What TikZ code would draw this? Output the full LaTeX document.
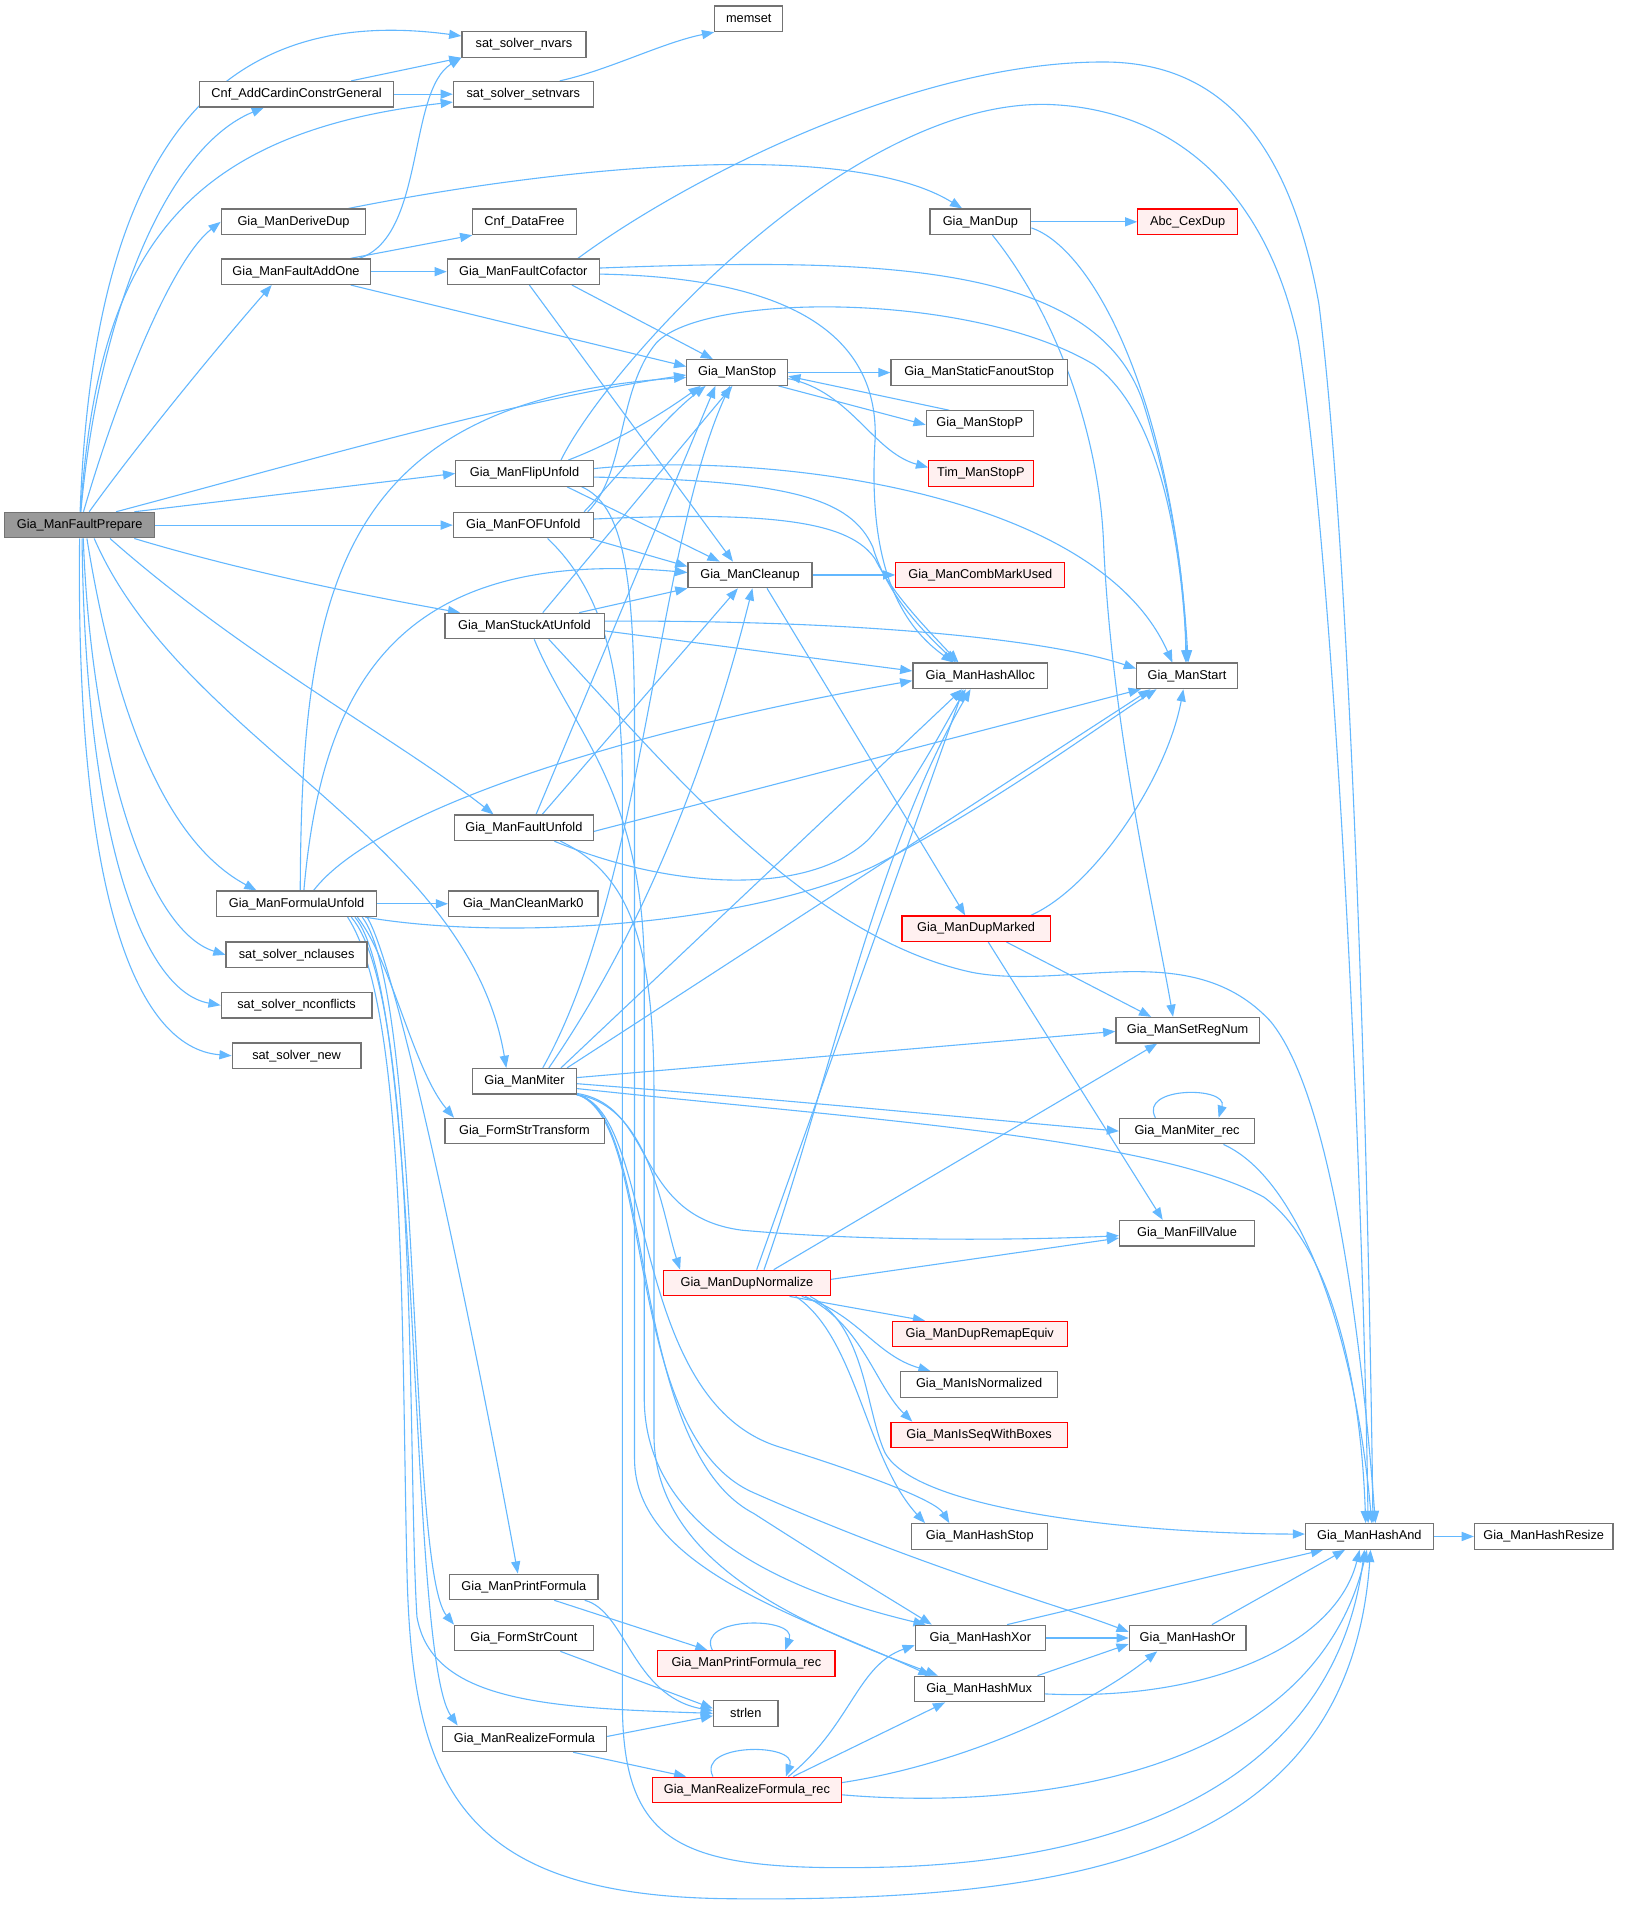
\documentclass[tikz,border=0pt]{standalone}
\usepackage{fontspec}
\setmainfont{Liberation Sans}
\usetikzlibrary{arrows.meta}
\definecolor{edgec}{HTML}{63B8FF}
\definecolor{bordc}{HTML}{737373}
\definecolor{rootc}{HTML}{999999}
\definecolor{redfill}{HTML}{FFF0F0}
\definecolor{redbord}{HTML}{FF0000}
\pgfdeclarelayer{bg}
\pgfsetlayers{bg,main}
\tikzset{
  nd/.style={draw=bordc, fill=white, line width=1pt, minimum height=21pt, inner sep=0pt, font=\fontsize{10.5pt}{12pt}\selectfont, text=black},
  rednd/.style={nd, draw=redbord, fill=redfill},
  rootnd/.style={nd, draw=bordc, fill=rootc},
  ed/.style={draw=edgec, line width=0.9pt, -{Triangle[length=10pt,width=7.5pt]}},
}
\begin{document}
\begin{tikzpicture}[x=1pt,y=-1pt]
\useasboundingbox (0,0) rectangle (1344,1568);
% nodes
\node[rootnd, minimum width=123pt] (fp) at (65.5,432) {Gia\_ManFaultPrepare};
\node[nd, minimum width=102pt] (nvars) at (431,36.5) {sat\_solver\_nvars};
\node[nd, minimum width=160pt] (cnfadd) at (244,77.5) {Cnf\_AddCardinConstrGeneral};
\node[nd, minimum width=115pt] (setnvars) at (430.5,77.5) {sat\_solver\_setnvars};
\node[nd, minimum width=56pt] (memset) at (616,15.5) {memset};
\node[nd, minimum width=119pt] (derivedup) at (241.5,182.5) {Gia\_ManDeriveDup};
\node[nd, minimum width=83pt] (dup) at (806.5,182.5) {Gia\_ManDup};
\node[rednd, minimum width=82pt] (cexdup) at (977,182.5) {Abc\_CexDup};
\node[nd, minimum width=85pt] (datafree) at (431.5,182.5) {Cnf\_DataFree};
\node[nd, minimum width=123pt] (addone) at (243.5,223.5) {Gia\_ManFaultAddOne};
\node[nd, minimum width=125pt] (cofactor) at (430.5,223.5) {Gia\_ManFaultCofactor};
\node[nd, minimum width=83pt] (stop) at (606.5,306.5) {Gia\_ManStop};
\node[nd, minimum width=145pt] (sfostop) at (805.5,306.5) {Gia\_ManStaticFanoutStop};
\node[nd, minimum width=88pt] (stopp) at (806,348.5) {Gia\_ManStopP};
\node[rednd, minimum width=86pt] (timstopp) at (807,389.5) {Tim\_ManStopP};
\node[nd, minimum width=113pt] (flip) at (431.5,389.5) {Gia\_ManFlipUnfold};
\node[nd, minimum width=115pt] (fof) at (430.5,432) {Gia\_ManFOFUnfold};
\node[nd, minimum width=102pt] (cleanup) at (617,473) {Gia\_ManCleanup};
\node[rednd, minimum width=139pt] (combmark) at (806.5,473) {Gia\_ManCombMarkUsed};
\node[nd, minimum width=131pt] (stuck) at (431.5,515) {Gia\_ManStuckAtUnfold};
\node[nd, minimum width=111pt] (hashalloc) at (806.5,556) {Gia\_ManHashAlloc};
\node[nd, minimum width=83pt] (start) at (976.5,556) {Gia\_ManStart};
\node[nd, minimum width=114pt] (faultunf) at (431,681) {Gia\_ManFaultUnfold};
\node[nd, minimum width=132pt] (formula) at (244,743.5) {Gia\_ManFormulaUnfold};
\node[nd, minimum width=123pt] (cleanmark) at (430.5,743.5) {Gia\_ManCleanMark0};
\node[rednd, minimum width=122pt] (dupmarked) at (803,764) {Gia\_ManDupMarked};
\node[nd, minimum width=116pt] (nclauses) at (244,785.5) {sat\_solver\_nclauses};
\node[nd, minimum width=118pt] (setregnum) at (977,847.5) {Gia\_ManSetRegNum};
\node[nd, minimum width=124pt] (nconflicts) at (244,827) {sat\_solver\_nconflicts};
\node[nd, minimum width=106pt] (satnew) at (244,868.5) {sat\_solver\_new};
\node[nd, minimum width=85pt] (miter) at (431.5,889.5) {Gia\_ManMiter};
\node[nd, minimum width=111pt] (miterrec) at (976.5,930.5) {Gia\_ManMiter\_rec};
\node[nd, minimum width=131pt] (fstrans) at (431.5,930.5) {Gia\_FormStrTransform};
\node[nd, minimum width=111pt] (fillvalue) at (976.5,1014.5) {Gia\_ManFillValue};
\node[rednd, minimum width=137pt] (dupnorm) at (614.5,1055.5) {Gia\_ManDupNormalize};
\node[rednd, minimum width=144pt] (remap) at (806,1097.5) {Gia\_ManDupRemapEquiv};
\node[nd, minimum width=129pt] (isnorm) at (805.5,1139) {Gia\_ManIsNormalized};
\node[rednd, minimum width=145pt] (isseq) at (805.5,1180.5) {Gia\_ManIsSeqWithBoxes};
\node[nd, minimum width=105pt] (hashand) at (1126.5,1264) {Gia\_ManHashAnd};
\node[nd, minimum width=114pt] (hashresize) at (1270,1264) {Gia\_ManHashResize};
\node[nd, minimum width=112pt] (hashstop) at (806,1264) {Gia\_ManHashStop};
\node[nd, minimum width=122pt] (printf) at (431,1305.5) {Gia\_ManPrintFormula};
\node[nd, minimum width=114pt] (fscount) at (431,1347.5) {Gia\_FormStrCount};
\node[rednd, minimum width=146pt] (printrec) at (614,1368.5) {Gia\_ManPrintFormula\_rec};
\node[nd, minimum width=107pt] (hashxor) at (806.5,1347.5) {Gia\_ManHashXor};
\node[nd, minimum width=96pt] (hashor) at (977,1347.5) {Gia\_ManHashOr};
\node[nd, minimum width=107pt] (hashmux) at (805.5,1389.5) {Gia\_ManHashMux};
\node[nd, minimum width=53pt] (strlen) at (613.5,1409.5) {strlen};
\node[nd, minimum width=135pt] (realize) at (431.5,1430.5) {Gia\_ManRealizeFormula};
\node[rednd, minimum width=155pt] (realizerec) at (614.5,1472.5) {Gia\_ManRealizeFormula\_rec};

\begin{pgfonlayer}{bg}
\fill[white] (0,0) rectangle (1344,1568);
% FaultPrepare
\draw[ed] (fp) .. controls (76,150) and (160,0) .. (nvars);
\draw[ed] (fp) .. controls (82,250) and (140,120) .. (cnfadd);
\draw[ed] (fp) .. controls (80,220) and (140,110) .. (setnvars);
\draw[ed] (fp) .. controls (95,330) and (140,215) .. (derivedup.west);
\draw[ed] (fp) .. controls (110,370) and (175,290) .. ([xshift=-20pt]addone.south);
\draw[ed] ([xshift=30pt]fp.north) .. controls (250,380) and (420,330) .. ([yshift=-2pt]stop.west);
\draw[ed] ([xshift=45pt]fp.north) -- (flip.west);
\draw[ed] (fp.east) -- (fof.west);
\draw[ed] ([xshift=45pt]fp.south) .. controls (200,470) and (300,490) .. ([xshift=-53pt]stuck.north);
\draw[ed] ([xshift=25pt]fp.south) .. controls (200,540) and (330,610) .. ([xshift=-25pt]faultunf.north);
\draw[ed] ([xshift=12pt]fp.south) .. controls (150,610) and (385,690) .. ([xshift=-15pt]miter.north);
\draw[ed] ([xshift=6pt]fp.south) .. controls (100,620) and (150,700) .. ([xshift=-33pt]formula.north);
\draw[ed] ([xshift=3pt]fp.south) .. controls (75,620) and (120,765) .. (nclauses.west);
\draw[ed] ([xshift=2pt]fp.south) .. controls (70,680) and (115,815) .. (nconflicts.west);
\draw[ed] (fp.south) .. controls (62,730) and (110,862) .. (satnew.west);
% Cnf / sat
\draw[ed] ([xshift=45pt]cnfadd.north) -- (nvars.south west);
\draw[ed] (cnfadd) -- (setnvars);
\draw[ed] ([xshift=30pt]setnvars.north) .. controls (500,58) and (545,35) .. (memset.south west);
\draw[ed] ([xshift=45pt]derivedup.north) .. controls (470,135) and (700,115) .. ([xshift=-15pt]dup.north);
% AddOne
\draw[ed] ([xshift=52pt]addone.north) .. controls (350,195) and (335,75) .. (nvars.south west);
\draw[ed] ([xshift=45pt]addone.north) -- (datafree.south west);
\draw[ed] (addone) -- (cofactor);
\draw[ed] ([xshift=45pt]addone.south) -- ([yshift=5pt]stop.west);
% Cofactor
\draw[ed] ([xshift=45pt]cofactor.north) .. controls (560,150) and (750,50) .. (910,51) .. controls (1000,52) and (1060,110) .. (1085,250) .. controls (1110,450) and (1125,900) .. ([xshift=3pt]hashand.north);
\draw[ed] ([yshift=3pt]cofactor.east) .. controls (720,212) and (900,215) .. (940,330) .. controls (962,400) and (975,470) .. ([xshift=-1pt]start.north);
\draw[ed] ([xshift=40pt]cofactor.south) -- ([xshift=-20pt]stop.north);
\draw[ed] ([xshift=5pt]cofactor.south) -- ([xshift=-14pt]cleanup.north);
\draw[ed] ([yshift=-2pt]cofactor.east) .. controls (640,228) and (722,270) .. (720,360) .. controls (715,440) and (728,505) .. ([xshift=-22pt]hashalloc.north);
% Dup
\draw[ed] (dup) -- (cexdup);
\draw[ed] ([yshift=-5pt]dup.east) .. controls (900,205) and (965,330) .. ([xshift=1pt]start.north);
\draw[ed] ([xshift=10pt]dup.south) .. controls (870,260) and (905,360) .. (908,450) .. controls (915,600) and (950,750) .. ([xshift=-12pt]setregnum.north);
% Stop
\draw[ed] (stop) -- (sfostop);
\draw[ed] ([xshift=-8pt]stop.south east) -- ([yshift=-1pt]stopp.west);
\draw[ed] ([yshift=-5pt]stop.east) .. controls (700,322) and (718,372) .. ([yshift=5pt]timstopp.west);
\draw[ed] ([xshift=-25pt]stopp.north) -- ([yshift=-3pt]stop.east);
% Flip
\draw[ed] ([xshift=30pt]flip.north) .. controls (500,300) and (700,80) .. (864,86) .. controls (960,90) and (1040,150) .. (1068,280) .. controls (1095,450) and (1120,900) .. ([xshift=-1pt]hashand.north);
\draw[ed] ([xshift=36pt]flip.north) .. controls (510,362) and (545,340) .. ([xshift=-30pt]stop.south);
\draw[ed] ([xshift=35pt]flip.south) -- ([xshift=-25pt]cleanup.north);
\draw[ed] ([yshift=-3pt]flip.east) .. controls (650,395) and (700,410) .. (718,450) .. controls (730,490) and (760,520) .. ([xshift=-20pt]hashalloc.north);
\draw[ed] ([yshift=4pt]flip.east) .. controls (620,372) and (900,400) .. ([xshift=-12pt]start.north);
\draw[ed] ([xshift=-10pt]flip.south east) .. controls (512,415) and (522,470) .. (522,600) -- (522,1200) .. controls (522,1290) and (660,1330) .. ([xshift=-40pt]hashmux.north);
% FOF
\draw[ed] ([xshift=-5pt]fof.north east) .. controls (515,390) and (508,320) .. (540,282) .. controls (580,240) and (800,240) .. (900,300) .. controls (955,340) and (972,450) .. (start.north);
\draw[ed] ([xshift=-8pt]fof.north east) .. controls (510,390) and (545,345) .. ([xshift=-26pt]stop.south);
\draw[ed] ([xshift=-3pt]fof.south east) -- ([yshift=7pt]cleanup.west);
\draw[ed] ([yshift=5pt]fof.east) .. controls (640,420) and (700,430) .. (720,460) .. controls (735,490) and (765,520) .. ([xshift=-18pt]hashalloc.north);
\draw[ed] ([xshift=20pt]fof.south) .. controls (500,490) and (512,560) .. (512,650) -- (512,1400) .. controls (512,1520) and (560,1540) .. (730,1536) .. controls (950,1530) and (1100,1450) .. ([xshift=-4pt]hashand.south);
% Cleanup
\draw[ed] (cleanup) -- (combmark);
\draw[ed] ([xshift=14pt]cleanup.south) -- ([xshift=-9pt]dupmarked.north);
% StuckAt
\draw[ed] ([xshift=45pt]stuck.north) -- (cleanup.south west);
\draw[ed] ([yshift=4pt]stuck.east) .. controls (700,510) and (860,525) .. ([yshift=6pt]start.west);
\draw[ed] ([yshift=-4pt]stuck.east) -- ([yshift=4pt]hashalloc.west);
\draw[ed] ([xshift=15pt]stuck.north) -- ([xshift=-4pt]stop.south);
\draw[ed] ([xshift=20pt]stuck.south) .. controls (540,620) and (660,770) .. (800,800) .. controls (880,815) and (980,770) .. (1045,840) .. controls (1095,900) and (1120,1100) .. ([xshift=5pt]hashand.north);
\draw[ed] ([xshift=8pt]stuck.south) .. controls (470,600) and (530,650) .. (530,800) -- (530,1150) .. controls (530,1260) and (650,1310) .. ([xshift=-45pt]hashxor.north);
% FaultUnfold
\draw[ed] ([xshift=10pt]faultunf.north) -- ([xshift=-18pt]stop.south);
\draw[ed] ([xshift=15pt]faultunf.north) -- ([xshift=-10pt]cleanup.south);
\draw[ed] ([xshift=25pt]faultunf.south) .. controls (560,735) and (670,735) .. (715,690) .. controls (750,650) and (775,600) .. ([xshift=-12pt]hashalloc.south);
\draw[ed] ([yshift=-3pt]faultunf.east) -- ([xshift=-38pt]start.south);
\draw[ed] ([xshift=30pt]faultunf.south) .. controls (520,720) and (538,780) .. (538,900) -- (538,1180) .. controls (538,1290) and (670,1340) .. ([xshift=-34pt]hashmux.north);
% FormulaUnfold
\draw[ed] (formula) -- (cleanmark);
\draw[ed] ([xshift=3pt]formula.north) .. controls (248,480) and (280,330) .. ([yshift=-4pt]stop.west);
\draw[ed] ([xshift=6pt]formula.north) .. controls (265,560) and (330,450) .. ([yshift=2pt]cleanup.west);
\draw[ed] ([xshift=14pt]formula.north) .. controls (310,665) and (520,600) .. ([yshift=-4pt]hashalloc.west);
\draw[ed] ([xshift=-10pt]formula.south east) .. controls (420,775) and (620,760) .. (720,712) .. controls (820,660) and (900,600) .. ([xshift=-25pt]start.south);
\draw[ed] ([xshift=50pt]formula.south) .. controls (322,790) and (340,880) .. ([xshift=-58pt]fstrans.north);
\draw[ed] ([xshift=58pt]formula.south) .. controls (330,800) and (400,1150) .. ([xshift=-5pt]printf.north);
\draw[ed] ([xshift=54pt]formula.south) .. controls (348,820) and (335,1290) .. (fscount.north west);
\draw[ed] ([xshift=48pt]formula.south) .. controls (348,820) and (335,1360) .. ([xshift=-55pt]realize.north);
\draw[ed] ([xshift=45pt]formula.south) .. controls (345,820) and (335,1200) .. (343,1330) .. controls (355,1400) and (450,1405) .. (strlen.west);
\draw[ed] ([xshift=42pt]formula.south) .. controls (335,830) and (330,1100) .. (335,1300) .. controls (340,1470) and (380,1560) .. (600,1562) .. controls (900,1565) and (1110,1520) .. ([xshift=1pt]hashand.south);
% Miter
\draw[ed] ([xshift=15pt]miter.north) .. controls (530,730) and (540,450) .. ([xshift=-6pt]stop.south);
\draw[ed] ([xshift=20pt]miter.north) .. controls (540,750) and (590,600) .. ([xshift=2pt]cleanup.south);
\draw[ed] ([xshift=30pt]miter.north) -- ([xshift=-15pt]hashalloc.south);
\draw[ed] ([xshift=35pt]miter.north) -- ([xshift=-30pt]start.south);
\draw[ed] ([yshift=3pt]miter.east) -- ([yshift=-1pt]setregnum.west);
\draw[ed] ([yshift=-2pt]miter.east) .. controls (650,905) and (800,920) .. (miterrec.west);
\draw[ed] ([yshift=-6pt]miter.east) .. controls (700,920) and (950,935) .. (1040,985) .. controls (1100,1030) and (1120,1150) .. ([xshift=-3pt]hashand.north);
\draw[ed] ([yshift=1pt]miter.south east) .. controls (540,910) and (520,1000) .. (610,1012) .. controls (720,1022) and (850,1020) .. ([yshift=-2pt]fillvalue.west);
\draw[ed] (miter.south east) .. controls (535,910) and (545,1000) .. ([xshift=-55pt]dupnorm.north);
\draw[ed] (miter.south east) .. controls (540,915) and (515,1150) .. (640,1190) .. controls (720,1215) and (770,1235) .. ([xshift=-25pt]hashstop.north);
\draw[ed] (miter.south east) .. controls (540,915) and (515,1190) .. (620,1245) .. controls (690,1290) and (740,1320) .. ([xshift=-40pt]hashxor.north);
\draw[ed] (miter.south east) .. controls (540,920) and (510,1180) .. (620,1228) .. controls (760,1290) and (870,1320) .. ([yshift=5pt]hashor.west);
% DupNormalize
\draw[ed] ([xshift=8pt]dupnorm.north) -- ([xshift=-14pt]hashalloc.south);
\draw[ed] ([xshift=14pt]dupnorm.north) .. controls (680,900) and (720,700) .. ([xshift=-8pt]hashalloc.south);
\draw[ed] ([xshift=22pt]dupnorm.north) -- ([xshift=-25pt]setregnum.south);
\draw[ed] ([yshift=3pt]dupnorm.east) -- ([yshift=-4pt]fillvalue.west);
\draw[ed] ([xshift=35pt]dupnorm.south) -- ([xshift=-45pt]remap.north);
\draw[ed] ([xshift=45pt]dupnorm.south) .. controls (705,1080) and (720,1115) .. ([xshift=-40pt]isnorm.north);
\draw[ed] ([xshift=48pt]dupnorm.south) .. controls (710,1090) and (720,1140) .. ([xshift=-55pt]isseq.north);
\draw[ed] ([xshift=52pt]dupnorm.south) .. controls (712,1090) and (712,1160) .. (728,1195) .. controls (755,1245) and (950,1262) .. ([yshift=2pt]hashand.west);
\draw[ed] ([xshift=40pt]dupnorm.south) .. controls (705,1100) and (712,1200) .. ([xshift=-45pt]hashstop.north);
% DupMarked
\draw[ed] ([xshift=45pt]dupmarked.north) .. controls (900,730) and (960,640) .. ([xshift=-3pt]start.south);
\draw[ed] ([xshift=25pt]dupmarked.south) -- ([xshift=-30pt]setregnum.north);
\draw[ed] ([xshift=10pt]dupmarked.south) -- ([xshift=-20pt]fillvalue.north);
% Miter_rec
\draw[ed] ([xshift=-26pt]miterrec.north) .. controls +(-14,-26) and +(8,-26) .. ([xshift=26pt]miterrec.north);
\draw[ed] ([xshift=30pt]miterrec.south) .. controls (1070,970) and (1115,1100) .. ([xshift=2pt]hashand.north);
% Hash
\draw[ed] (hashand) -- (hashresize);
\draw[ed] ([xshift=22pt]hashxor.north) -- ([xshift=-38pt]hashand.south);
\draw[ed] (hashxor) -- (hashor);
\draw[ed] ([xshift=20pt]hashor.north) -- ([xshift=-20pt]hashand.south);
\draw[ed] ([xshift=48pt]hashmux.north) -- ([yshift=-5pt]hashor.west);
\draw[ed] ([yshift=-4pt]hashmux.east) .. controls (1000,1400) and (1100,1350) .. ([xshift=-8pt]hashand.south);
% Print / realize
\draw[ed] ([xshift=25pt]printf.south) -- ([xshift=-32pt]printrec.north);
\draw[ed] ([xshift=50pt]printf.south) .. controls (515,1325) and (520,1395) .. ([yshift=2pt]strlen.west);
\draw[ed] ([xshift=-28pt]printrec.north) .. controls +(-14,-28) and +(10,-28) .. ([xshift=32pt]printrec.north);
\draw[ed] ([xshift=30pt]fscount.south) -- ([yshift=4pt]strlen.west);
\draw[ed] ([yshift=2pt]realize.east) -- ([yshift=-2pt]strlen.west);
\draw[ed] ([xshift=40pt]realize.south) -- ([xshift=-50pt]realizerec.north);
\draw[ed] ([xshift=-28pt]realizerec.north) .. controls +(-14,-28) and +(10,-28) .. ([xshift=32pt]realizerec.north);
\draw[ed] ([xshift=34pt]realizerec.north) .. controls (700,1420) and (705,1370) .. ([yshift=-6pt]hashxor.west);
\draw[ed] ([xshift=38pt]realizerec.north) -- ([xshift=-28pt]hashmux.south);
\draw[ed] ([yshift=6pt]realizerec.east) .. controls (800,1450) and (900,1400) .. ([xshift=-25pt]hashor.south);
\draw[ed] ([yshift=-4pt]realizerec.east) .. controls (850,1490) and (1080,1460) .. ([xshift=-2pt]hashand.south);
\end{pgfonlayer}
\end{tikzpicture}
\end{document}
